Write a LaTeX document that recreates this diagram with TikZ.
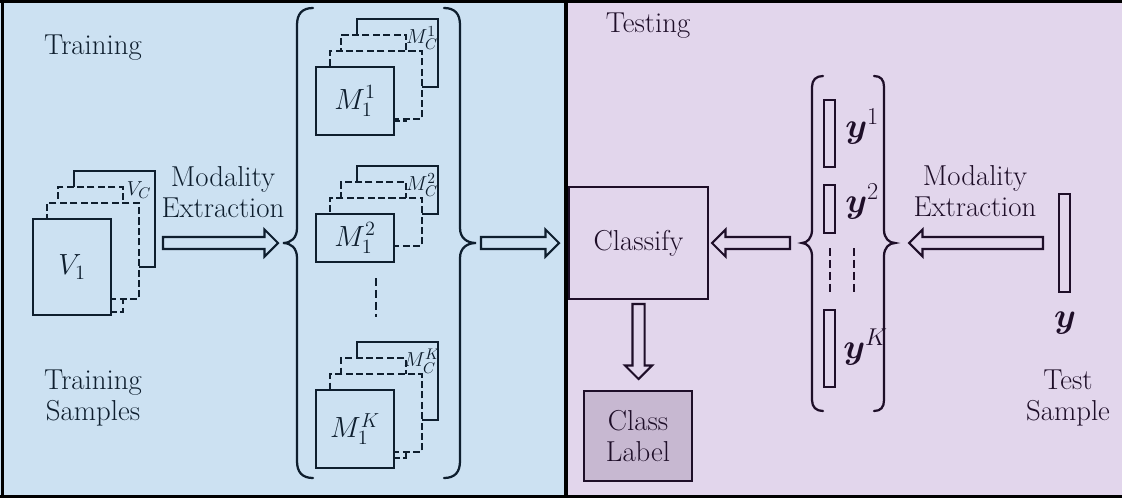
\documentclass[tikz,border=0pt]{standalone}
\usepackage{amsmath}
\usetikzlibrary{calc}

\definecolor{trainbg}{RGB}{204,225,242}
\definecolor{testbg}{RGB}{226,214,236}
\definecolor{labelbg}{RGB}{199,184,209}
\definecolor{trainink}{RGB}{14,30,46}
\definecolor{testink}{RGB}{30,14,40}

% arrow geometry (shaft half-height, head half-height, head length)
\newcommand{\ash}{4.3pt}
\newcommand{\ahh}{9.6pt}
\newcommand{\ahl}{9.6pt}

\tikzset{
  pxbox/.style 2 args={minimum width={#1*0.025cm}, minimum height={#2*0.025cm},
    inner sep=0pt, outer sep=0pt},
  solidlayer/.style={draw=trainink, fill=trainbg, line width=1.4pt},
  dashedlayer/.style={solidlayer, dash pattern=on 5pt off 2.4pt},
  bigtext/.style={font=\fontsize{20.5}{22}\selectfont, align=center},
  traintext/.style={bigtext, text=trainink},
  testtext/.style={bigtext, text=testink},
  frontmath/.style={font=\fontsize{20}{20}\selectfont, text=trainink},
  backmath/.style={font=\fontsize{15}{15}\selectfont, text=trainink, inner sep=0pt},
  bracestyle/.style={line width=1.6pt, line cap=round},
  trainarrow/.style={draw=trainink, fill=trainbg, line width=1.5pt, line join=miter},
  testarrow/.style={draw=testink, fill=testbg, line width=1.5pt, line join=miter},
  vecbar/.style={draw=testink, fill=testbg, line width=1.4pt, inner sep=0pt, outer sep=0pt},
  ymath/.style={font=\fontsize{23}{23}\selectfont, text=testink, inner sep=0pt},
  stepbox/.style={draw=testink, line width=1.4pt, inner sep=0pt},
}

% horizontal hollow arrow from #2 (tail) to #3 (tip)
\newcommand{\harrow}[3]{%
  \draw[#1] let \p1=(#2), \p2=(#3), \n1={(\x2>\x1)*2-1} in
    (\x1,{\y1+\ash}) -- ({\x2-\n1*\ahl},{\y1+\ash}) -- ({\x2-\n1*\ahl},{\y1+\ahh})
    -- (\x2,\y1) -- ({\x2-\n1*\ahl},{\y1-\ahh}) -- ({\x2-\n1*\ahl},{\y1-\ash})
    -- (\x1,{\y1-\ash}) -- cycle;}
% vertical hollow arrow from #2 (tail) to #3 (tip)
\newcommand{\varrow}[3]{%
  \draw[#1] let \p1=(#2), \p2=(#3), \n1={(\y2>\y1)*2-1} in
    ({\x1+\ash},\y1) -- ({\x1+\ash},{\y2-\n1*\ahl}) -- ({\x1+\ahh},{\y2-\n1*\ahl})
    -- (\x1,\y2) -- ({\x1-\ahh},{\y2-\n1*\ahl}) -- ({\x1-\ash},{\y2-\n1*\ahl})
    -- ({\x1-\ash},\y1) -- cycle;}

% a stack of modality layers; #2,#3 = top-left of the front layer, #4 = height
\newcommand{\layerstack}[6]{%
  \node[solidlayer, pxbox={81}{#4}, anchor=north west] (#1-back) at (#2+41,#3-48) {};
  \node[dashedlayer, pxbox={65}{#4-10}, anchor=north west] (#1-mid) at (#2+25,#3-32) {};
  \node[dashedlayer, pxbox={92}{#4}, anchor=north west] (#1-near) at (#2+14,#3-16) {};
  \node[solidlayer, pxbox={78}{#4}, anchor=north west] (#1-front) at (#2,#3) {};
  \node[frontmath] (#1-flabel) at (#1-front.center) {$#5$};
  \node[backmath] (#1-blabel) at (#2+106,#3-29) {$#6$};
}

\begin{document}
\begin{tikzpicture}[x=0.025cm, y=-0.025cm]
\useasboundingbox (0,0) rectangle (1122,500);

% panels
\fill[trainbg] (0,0) rectangle (566,497);
\fill[testbg] (566,0) rectangle (1122,497);
\draw[line width=2.2pt, black] (0,1.3) -- (1122,1.3);
\draw[line width=2.2pt, black] (2.5,0) -- (2.5,497);
\draw[line width=1.8pt, black] (0,496.5) -- (1122,496.5);
\draw[line width=2.2pt, black] (566,0) -- (566,497);

% ---------------- training side ----------------
\node[traintext] (train) at (93,48) {Training};
\node[traintext] (trainsamples) at (93,398) {Training\\Samples};
\node[traintext] (modL) at (223,192) {Modality\\Extraction};

\layerstack{V}{33}{219}{96}{V_1}{V_C}
\layerstack{MA}{316}{67}{68}{M_1^1}{M_C^1}
\layerstack{MB}{316}{214}{48}{M_1^2}{M_C^2}
\layerstack{MK}{316}{390}{78}{M_1^K}{M_C^K}

\draw[draw=trainink, line width=1.4pt, dash pattern=on 5.5pt off 3pt] (376,278) -- (376,317);

% braces around the modality stacks
\draw[trainink, bracestyle] (313,8) .. controls (302,8) and (297,14) .. (297,25)
  -- (297,228) .. controls (297,238) and (291,243) .. (283,243)
  .. controls (291,243) and (297,248) .. (297,258)
  -- (297,461) .. controls (297,472) and (302,478) .. (313,478);
\draw[trainink, bracestyle] (444,8) .. controls (455,8) and (460,14) .. (460,25)
  -- (460,228) .. controls (460,238) and (467,243) .. (476,243)
  .. controls (467,243) and (460,248) .. (460,258)
  -- (460,461) .. controls (460,472) and (455,478) .. (444,478);

\coordinate (Vout) at (163,243);
\coordinate (Min) at (278,243);
\coordinate (Mout) at (481,243);
\coordinate (Cin) at (559,243);
\harrow{trainarrow}{Vout}{Min}
\harrow{trainarrow}{Mout}{Cin}

% ---------------- testing side ----------------
\node[testtext] (test) at (648,26) {Testing};
\node[stepbox, fill=testbg, pxbox={139}{112}] (classify) at (638.5,243) {};
\node[testtext] (classifytext) at (classify.center) {Classify};
\node[stepbox, fill=labelbg, pxbox={108}{90}] (classlabel) at (638,436) {};
\node[testtext] (classlabeltext) at (classlabel.center) {Class\\Label};

\node[vecbar, pxbox={11}{67}] (y1bar) at (829.5,133.5) {};
\node[vecbar, pxbox={11}{48}] (y2bar) at (829.5,209) {};
\node[vecbar, pxbox={11}{77}] (yKbar) at (829.5,348.5) {};
\node[ymath, anchor=base west] (y1) at (845,137) {$\boldsymbol{y}^1$};
\node[ymath, anchor=base west] (y2) at (845,212) {$\boldsymbol{y}^2$};
\node[ymath, anchor=base west] (yK) at (843,358) {$\boldsymbol{y}^K$};
\draw[draw=testink, line width=1.2pt, dash pattern=on 5.5pt off 3pt] (830,248) -- (830,292);
\draw[draw=testink, line width=1.2pt, dash pattern=on 5.5pt off 3pt] (854,248) -- (854,292);

\draw[testink, bracestyle] (823,76) .. controls (816,76) and (812,80) .. (812,87)
  -- (812,230) .. controls (812,238) and (807,243) .. (802,243)
  .. controls (807,243) and (812,248) .. (812,256)
  -- (812,400) .. controls (812,407) and (816,411) .. (823,411);
\draw[testink, bracestyle] (874,76) .. controls (881,76) and (884,80) .. (884,87)
  -- (884,230) .. controls (884,238) and (889,243) .. (895,243)
  .. controls (889,243) and (884,248) .. (884,256)
  -- (884,400) .. controls (884,407) and (881,411) .. (874,411);

\node[vecbar, pxbox={11}{98}] (ybar) at (1064.5,243) {};
\node[ymath, anchor=base] (y) at (1065,327) {$\boldsymbol{y}$};
\node[testtext] (modR) at (975,191) {Modality\\Extraction};
\node[testtext] (testsample) at (1068,398) {Test\\Sample};

\coordinate (Yout) at (790,243);
\coordinate (Tout) at (1043,243);
\coordinate (Yin) at (909,243);
\harrow{testarrow}{Yout}{$(classify.east)+(4,0)$}
\harrow{testarrow}{Tout}{Yin}
\varrow{testarrow}{$(classify.south)+(0,5)$}{$(classlabel.north)+(0,-12)$}
\end{tikzpicture}
\end{document}
